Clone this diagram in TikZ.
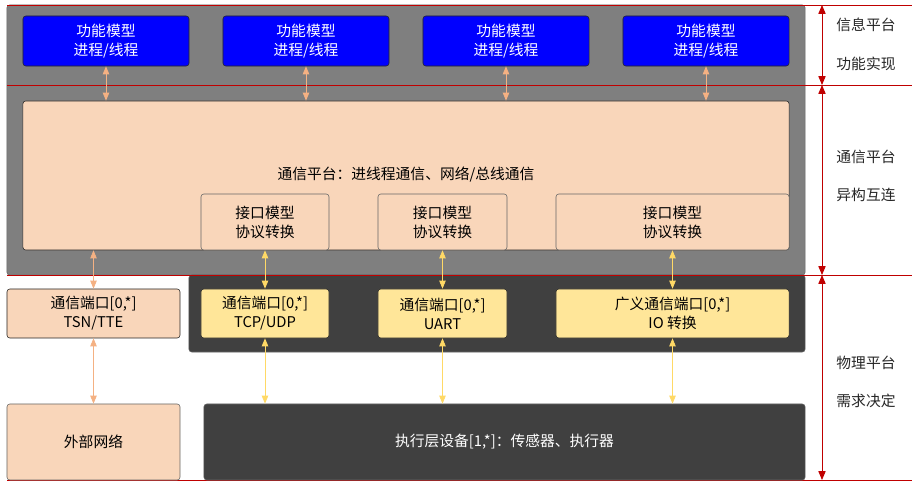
\documentclass[tikz,border=0pt]{standalone}
\usepackage{fontspec}
\setmainfont{Noto Sans CJK SC}
\usetikzlibrary{arrows.meta, calc}
\definecolor{panelgray}{HTML}{7F7F7F}
\definecolor{paneldark}{HTML}{404040}
\definecolor{peach}{HTML}{F9D6BA}
\definecolor{portyel}{HTML}{FFE699}
\definecolor{arrpeach}{HTML}{F4B183}
\definecolor{arryel}{HTML}{FFD966}
\definecolor{lvlred}{HTML}{C00000}
\tikzset{
  every node/.style={font=\fontsize{10.5pt}{13.5pt}\selectfont},
  panel/.style  = {rectangle, rounded corners=2pt, draw=black!60, inner sep=0pt},
  func/.style   = {rectangle, rounded corners=2pt, draw=black!85, fill=blue, text=white,
                   align=center, inner sep=0pt, minimum width=4.15cm, minimum height=1.25cm},
  comm/.style   = {rectangle, rounded corners=2pt, draw=black!85, fill=peach,
                   align=center, inner sep=0pt},
  iface/.style  = {rectangle, rounded corners=2pt, draw=black!60, fill=peach,
                   align=center, inner sep=0pt, minimum height=1.4cm},
  port/.style   = {rectangle, rounded corners=2pt, draw=black!85, fill=portyel,
                   align=center, inner sep=0pt, minimum height=1.225cm},
  lvl/.style    = {align=center, text=black!85, font=\fontsize{10.5pt}{27.5pt}\selectfont},
  parrow/.style = {{Triangle[length=2mm,width=1.6mm]}-{Triangle[length=2mm,width=1.6mm]}, draw=arrpeach, semithick},
  yarrow/.style = {{Triangle[length=2mm,width=1.6mm]}-{Triangle[length=2mm,width=1.6mm]}, draw=arryel, semithick},
  rarrow/.style = {{Triangle[length=2.2mm,width=1.8mm]}-{Triangle[length=2.2mm,width=1.8mm]}, draw=lvlred, semithick},
  redline/.style = {draw=lvlred, semithick},
}

\begin{document}
\begin{tikzpicture}[x=0.025cm, y=-0.025cm]
  \useasboundingbox (0,0) rectangle (912,486);

  % ---- background panels ----
  \node[panel, fill=panelgray, minimum width=19.95cm, minimum height=6.75cm] (upper) at (406,140) {};
  \node[panel, fill=paneldark, minimum width=15.4cm, minimum height=1.925cm] (lower) at (497,313.5) {};

  % ---- level borders ----
  \coordinate (l0) at (7,5);
  \coordinate (l1) at (7,85);
  \coordinate (l2) at (7,275);
  \coordinate (l3) at (7,480);
  \foreach \l in {l0,l1,l2,l3}
    \draw[redline] (\l) -- ++(905,0);

  % ---- information platform ----
  \foreach \i/\x in {1/106, 2/306, 3/506, 4/706}
    \node[func] (fn\i) at (\x,41) {功能模型\\进程/线程};

  % ---- communication platform ----
  \node[comm, minimum width=19.15cm, minimum height=3.725cm] (bus) at (406,175.5) {};
  \node at (406,175) {通信平台：进线程通信、网络/总线通信};
  \node[iface, minimum width=3.2cm]   (if1) at (265,222)   {接口模型\\协议转换};
  \node[iface, minimum width=3.225cm] (if2) at (442.5,222) {接口模型\\协议转换};
  \node[iface, minimum width=5.825cm] (if3) at (672.5,222) {接口模型\\协议转换};

  % ---- ports ----
  \node[port, fill=peach, minimum width=4.325cm] (tsn)  at (93.5,313.5)  {通信端口[0,*]\\TSN/TTE};
  \node[port, minimum width=3.2cm]               (tcp)  at (265,313.5)   {通信端口[0,*]\\TCP/UDP};
  \node[port, minimum width=3.225cm]             (uart) at (442.5,313.5) {通信端口[0,*]\\UART};
  \node[port, minimum width=5.825cm]             (gio)  at (672.5,313.5) {广义通信端口[0,*]\\IO 转换};

  % ---- physical platform ----
  \node[comm, draw=black!60, minimum width=4.325cm, minimum height=1.9cm] (ext) at (93.5,442) {外部网络};
  \node[panel, fill=paneldark, text=white, minimum width=15.025cm, minimum height=1.9cm] (exec) at (504.5,442)
    {执行层设备[1,*]：传感器、执行器};

  % ---- arrows ----
  \foreach \i in {1,...,4}
    \draw[parrow] (fn\i.south) -- (fn\i.south |- bus.north);
  \draw[parrow] (tsn.north |- bus.south) -- (tsn.north);
  \draw[parrow] (tsn.south) -- (ext.north);
  \draw[yarrow] (if1.south) -- (tcp.north);
  \draw[yarrow] (if2.south) -- (uart.north);
  \draw[yarrow] (if3.south) -- (gio.north);
  \foreach \p in {tcp,uart,gio}
    \draw[yarrow] (\p.south) -- (\p.south |- exec.north);

  % ---- level arrows and labels ----
  \draw[rarrow] ($(l0)+(815,0)$) -- ($(l1)+(815,0)$);
  \draw[rarrow] ($(l1)+(815,0)$) -- ($(l2)+(815,0)$);
  \draw[rarrow] ($(l2)+(815,0)$) -- ($(l3)+(815,0)$);
  \node[lvl] (info) at (866,44.5) {信息平台\\功能实现};
  \node[lvl] (net)  at (866,176)  {通信平台\\异构互连};
  \node[lvl] (phys) at (866,382)  {物理平台\\需求决定};
\end{tikzpicture}
\end{document}
